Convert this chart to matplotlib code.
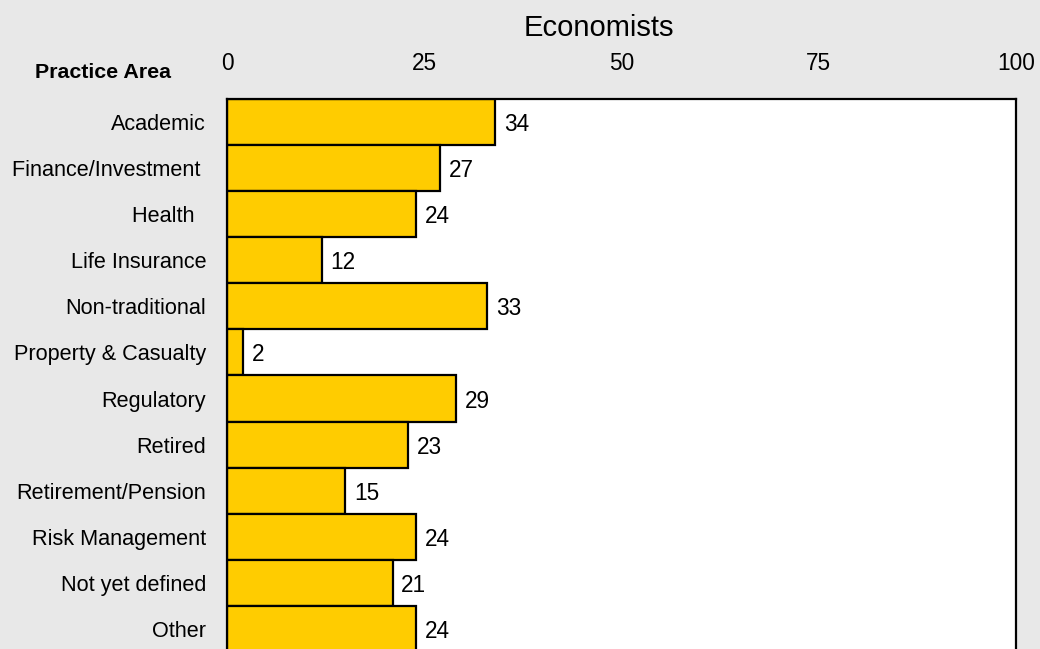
import matplotlib.pyplot as plt
import numpy as np

areas = ["Academic", "Finance/Investment ", "Health  ", "Life Insurance",
         "Non-traditional", "Property & Casualty", "Regulatory", "Retired",
         "Retirement/Pension", "Risk Management", "Not yet defined", "Other"]
counts = [34, 27, 24, 12, 33, 2, 29, 23, 15, 24, 21, 24]
x_ticks = [0, 25, 50, 75, 100]

plt.rcParams['font.family'] = ['Liberation Sans', 'DejaVu Sans']

fig = plt.figure(figsize=(10.4, 6.49), dpi=100, facecolor="#e8e8e8")
# axes runs past the bottom edge, like the source
ax = fig.add_axes([227 / 1040, -0.0046, 789 / 1040, 0.8521])
ax.set_facecolor("white")

y = np.arange(len(areas))
ax.barh(y, counts, height=1.0, color="#ffcc00", edgecolor="black", linewidth=1.6)

for yi, v in zip(y, counts):
    ax.text(v + 1.1, yi, str(v), va="center_baseline", ha="left", fontsize=16.3)

ax.set_xlim(0, 100)
ax.set_ylim(len(areas) - 0.5, -0.5)
ax.xaxis.tick_top()
ax.set_xticks(x_ticks)
ax.set_xticklabels([str(t) for t in x_ticks], fontsize=16.3)
ax.tick_params(axis="x", length=0, pad=17)
ax.set_yticks(y)
ax.set_yticklabels(areas, fontsize=15.6)
ax.tick_params(axis="y", length=0, pad=15)
for s in ax.spines.values():
    s.set_linewidth(1.6)

fig.text(599 / 1040, 1 - 28 / 649, "Economists", ha="center", va="center", fontsize=21)
fig.text(103 / 1040, 1 - 73 / 649, "Practice Area", ha="center", va="center",
         fontsize=15.4, fontweight="bold")

plt.savefig("out.png", dpi=100, facecolor=fig.get_facecolor())
